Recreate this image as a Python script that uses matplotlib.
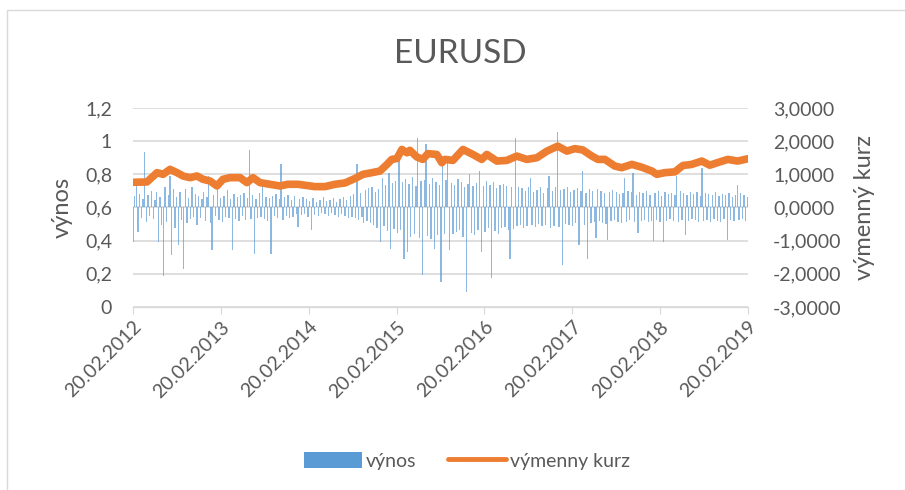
import matplotlib
matplotlib.use("Agg")
import matplotlib.pyplot as plt
import matplotlib.dates as mdates
from matplotlib.patches import Rectangle, Patch
from matplotlib.lines import Line2D
import pandas as pd

plt.rcParams['font.family'] = ['Lato', 'DejaVu Sans']

# tydenni vynosy v % (prava osa), odhad z obrazku
vynos = [
    -1.03, 0.35, 0.84, -0.73, 0.42, -0.31, 0.25, 1.68, -0.44, 0.38,
    -0.27, 0.51, -0.36, 0.22, 0.47, -1.03, 0.33, -0.52, -2.07, 0.61,
    -0.45, 0.39, 0.94, -1.44, 0.57, -0.62, 0.31, -1.13, 0.48, -0.39,
    -1.84, 0.55, -0.47, 0.29, -0.35, 0.62, -0.28, 0.41, -0.52, 0.36,
    -0.33, 0.27, 0.48, -0.41, 0.32, 0.94, -0.46, -1.29, 0.38, -0.25,
    0.84, -0.37, 0.29, -0.44, 0.35, -0.28, 0.52, -0.33, 0.26, -1.29,
    0.41, -0.36, 0.31, -0.42, 0.37, -0.25, 0.44, -0.38, 0.29, 1.73,
    -0.34, 0.39, -1.39, 0.27, -0.31, 0.45, -0.29, 0.69, -0.36, 0.33,
    -0.41, 0.28, -1.39, 0.36, -0.27, 0.42, -0.33, 0.25, 1.30, -0.38,
    0.31, -0.26, 0.37, -0.32, 0.22, -0.29, 0.34, -0.21, -0.58, 0.27,
    -0.24, 0.31, -0.19, 0.26, -0.28, 0.21, -0.68, 0.29, -0.22, 0.18,
    -0.26, 0.24, -0.17, 0.32, -0.21, 0.19, -0.27, 0.23, -0.18, 0.28,
    -0.23, 0.17, -0.29, 0.25, -0.20, 0.33, -0.26, 0.22, -0.31, 0.36,
    -0.28, 0.41, -0.33, 1.30, -0.37, 0.45, -0.29, -0.48, 0.52, -0.41,
    0.58, -0.46, 0.63, -0.52, 0.47, -0.61, 0.55, -1.03, 0.89, -0.57,
    0.68, -0.72, 1.05, -1.24, 0.74, -0.66, 0.81, -0.78, 1.60, -0.69,
    0.77, -1.56, 0.85, -1.34, 0.72, -0.88, 0.93, -0.81, 0.66, 2.11,
    -0.92, 0.79, -2.05, 0.84, 1.90, -0.86, 0.71, -0.94, 0.88, -1.24,
    0.76, -0.83, 0.69, -2.25, 1.50, -0.79, 0.82, 1.35, -1.29, 0.74,
    -0.81, 0.67, -0.73, 0.86, -0.69, 0.78, -0.88, 0.62, -2.55, 0.71,
    1.00, -0.76, 0.64, -0.82, 0.73, -0.68, 1.10, -1.34, 0.66, -0.74,
    0.81, -0.63, 0.69, -2.13, 0.76, -0.71, 0.58, -0.79, 0.67, -0.62,
    0.72, -0.58, 0.64, -0.69, -1.54, 0.61, -0.66, 2.11, -0.57, 0.63,
    -0.52, 0.58, -0.61, 0.49, -0.55, 0.62, 0.89, -0.53, 0.47, -0.58,
    0.54, -0.49, 0.61, -0.56, 0.45, -0.52, 0.58, 0.94, -0.61, 0.49,
    -0.55, 0.63, 2.29, -0.58, 0.52, -1.72, 0.57, -0.49, 0.61, -0.54,
    0.48, -0.57, 0.53, -0.46, 0.59, -1.13, 0.51, 1.10, -0.52, 0.45,
    -1.54, 0.55, -0.48, 0.51, -0.44, -0.93, 0.57, -0.41, 0.49, -0.47,
    0.43, -0.50, -0.98, 0.46, -0.42, 0.52, -0.39, 0.47, -0.45, 0.41,
    -0.48, 0.44, 0.89, -0.43, 0.50, -0.38, 0.46, 1.05, -0.44, 0.39,
    -0.78, 0.47, -0.41, 0.43, -0.37, 0.49, -0.45, 0.38, -0.42, -1.00,
    0.44, -0.39, 0.51, -0.43, 0.36, -1.05, 0.48, -0.40, 0.42, -0.36,
    0.45, -0.41, 0.39, 0.94, -0.44, 0.50, -0.38, 0.43, -0.83, 0.37,
    -0.42, 0.46, -0.35, 0.40, -0.39, 0.48, -0.43, 0.36, 1.20, -0.41,
    0.44, -0.37, 0.41, -0.45, 0.38, -0.34, 0.47, -0.40, 0.35, -0.43,
    0.42, -0.36, 0.39, -0.98, 0.45, -0.38, 0.33, -0.41, 0.37, 0.69,
    -0.39, 0.43, -0.35, 0.38, -0.42, 0.31,
]
vynos_dates = pd.date_range("2012-02-20", periods=len(vynos), freq="7D")

# vymenny kurz (leva osa)
kurz_dates = [
    "2012-02-20", "2012-04-18", "2012-05-30", "2012-06-24", "2012-07-23",
    "2012-08-21", "2012-09-15", "2012-10-14", "2012-11-12", "2012-12-07",
    "2013-01-05", "2013-02-03", "2013-02-28", "2013-03-29", "2013-05-10",
    "2013-06-08", "2013-07-03", "2013-08-01", "2013-09-11", "2013-10-23",
    "2013-11-25", "2014-01-06", "2014-03-17", "2014-04-28", "2014-06-09",
    "2014-07-20", "2014-08-31", "2014-10-03", "2014-11-09", "2014-12-13",
    "2015-01-11", "2015-01-31", "2015-02-21", "2015-03-14", "2015-04-04",
    "2015-04-16", "2015-05-15", "2015-06-09", "2015-06-30", "2015-08-06",
    "2015-08-27", "2015-09-09", "2015-10-12", "2015-11-23", "2016-01-03",
    "2016-02-09", "2016-03-01", "2016-04-12", "2016-05-23", "2016-07-04",
    "2016-08-14", "2016-09-25", "2016-11-06", "2016-12-21", "2017-01-28",
    "2017-03-02", "2017-04-04", "2017-05-12", "2017-06-06", "2017-07-05",
    "2017-08-15", "2017-09-13", "2017-10-25", "2017-12-05", "2018-01-16",
    "2018-02-06", "2018-03-11", "2018-04-22", "2018-05-25", "2018-07-01",
    "2018-08-12", "2018-09-14", "2018-10-26", "2018-11-28", "2019-01-08",
    "2019-02-20",
]
kurz = [
    0.752, 0.754, 0.810, 0.800, 0.830,
    0.810, 0.790, 0.780, 0.790, 0.770,
    0.760, 0.730, 0.770, 0.780, 0.780,
    0.750, 0.780, 0.750, 0.740, 0.730,
    0.740, 0.740, 0.726, 0.726, 0.740,
    0.748, 0.775, 0.800, 0.810, 0.820,
    0.860, 0.890, 0.895, 0.950, 0.930,
    0.945, 0.905, 0.890, 0.925, 0.920,
    0.870, 0.890, 0.884, 0.950, 0.920,
    0.890, 0.920, 0.880, 0.884, 0.910,
    0.890, 0.900, 0.940, 0.970, 0.940,
    0.955, 0.947, 0.910, 0.890, 0.890,
    0.850, 0.840, 0.860, 0.843, 0.820,
    0.800, 0.810, 0.815, 0.853, 0.860,
    0.880, 0.855, 0.875, 0.890, 0.880,
    0.894,
]

year_ticks = pd.to_datetime([f"{y}-02-20" for y in range(2012, 2020)])

text_col = "#595959"
grid_col = "#D9D9D9"
blue = "#5B9BD5"
orange = "#ED7D31"

fig = plt.figure(figsize=(9.05, 4.9), dpi=100)
fig.patches.append(Rectangle((7 / 905, -0.1), 1.0, 1.1 - 10 / 490, transform=fig.transFigure,
                             fill=False, edgecolor=grid_col, linewidth=1))

# bary kresli hlavni osa (prava stupnice), kurz druha osa nad nimi
ax = fig.add_axes([133 / 905, 1 - 307 / 490, 615 / 905, 199 / 490])
ax2 = ax.twinx()

ax.bar(vynos_dates, vynos, width=5.5, color=blue, alpha=0.7, linewidth=0)
ax2.plot(pd.to_datetime(kurz_dates), kurz, color=orange, linewidth=5.5, solid_capstyle="round")

ax.set_ylim(-3, 3)
ax.set_yticks(range(-3, 4))
ax.set_yticklabels([f"{v:.4f}".replace(".", ",") for v in range(-3, 4)])
ax.yaxis.tick_right()
ax.yaxis.set_label_position("right")
ax.set_ylabel("výmenný kurz", fontsize=17, color=text_col, labelpad=9)

ax2.set_ylim(0, 1.2)
left_ticks = [0, 0.2, 0.4, 0.6, 0.8, 1.0, 1.2]
ax2.set_yticks(left_ticks)
ax2.set_yticklabels(["0", "0,2", "0,4", "0,6", "0,8", "1", "1,2"])
ax2.yaxis.tick_left()
ax2.yaxis.set_label_position("left")
ax2.set_ylabel("výnos", fontsize=17, color=text_col, labelpad=9)

ax.set_xlim(year_ticks[0], year_ticks[-1])
ax.set_xticks(year_ticks)
ax.xaxis.set_major_formatter(mdates.DateFormatter("%d.%m.%Y"))
for lbl in ax.get_xticklabels():
    lbl.set_rotation(45)
    lbl.set_ha("right")
    lbl.set_rotation_mode("anchor")

ax.grid(axis="y", color=grid_col, linewidth=1.2)
ax.set_axisbelow(True)
for a in (ax, ax2):
    for s in ("top", "left", "right"):
        a.spines[s].set_visible(False)
    a.spines["bottom"].set_color(grid_col)
    a.tick_params(axis="y", length=0, labelsize=14, labelcolor=text_col, pad=15)
ax.tick_params(axis="y", pad=18)
ax.tick_params(axis="x", length=5, color=grid_col, labelsize=14, labelcolor=text_col, pad=3)

fig.text(460 / 905, 1 - 54 / 490, "EURUSD", ha="center", va="center", fontsize=24, color=text_col)

handles = [Patch(facecolor=blue, edgecolor="none"),
           Line2D([], [], color=orange, linewidth=3.5, solid_capstyle="round")]
fig.legend(handles, ["výnos", "výmenny kurz"], loc="center",
           bbox_to_anchor=(467 / 905, 1 - 461 / 490), ncol=2,
           frameon=False, fontsize=14, labelcolor=text_col, handlelength=3.0,
           handleheight=0.9, handletextpad=0.2, columnspacing=1.6)

fig.savefig("out.png", dpi=100)
